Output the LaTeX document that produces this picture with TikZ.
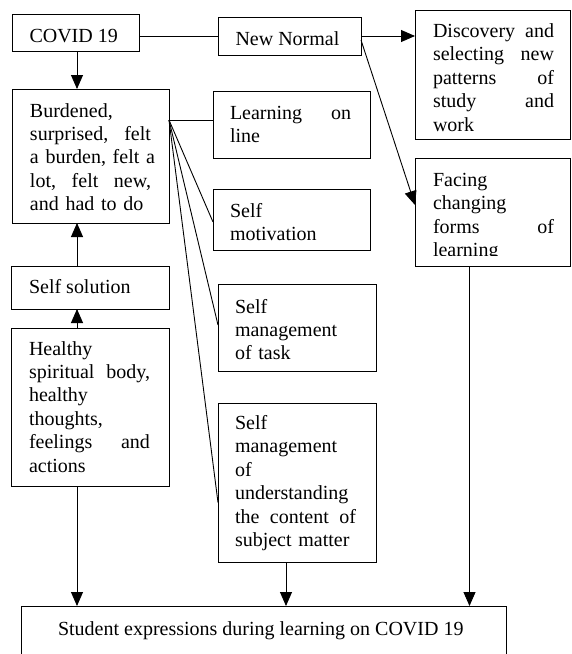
\documentclass[tikz,border=0pt]{standalone}
\usepackage{fontspec}
\setmainfont{Liberation Serif}
\usetikzlibrary{arrows.meta,calc}
\newcommand\myfont{\fontsize{20}{23.4}\selectfont}
\newcommand\J[1]{\makebox[121pt][l]{#1}}
\begin{document}
\begin{tikzpicture}[x=1pt,y=-1pt,
  box/.style={draw,line width=0.9pt,inner sep=0pt,outer sep=0pt,anchor=north west},
  lbl/.style={anchor=base west,inner sep=0pt,outer sep=0pt,font=\myfont},
  txt/.style={lbl,text width=121pt,align=left},
  conn/.style={line width=0.9pt},
  arr/.style={conn,-{Triangle[width=12pt,length=14pt]}}]
\useasboundingbox (0,0) rectangle (571,654);
\clip (0,0) rectangle (571,654);

% boxes
\node[box,minimum width=127pt,minimum height=37pt] (covid) at (12,14) {};
\node[box,minimum width=143pt,minimum height=38pt] (nn) at (218,17) {};
\node[box,minimum width=155pt,minimum height=129pt] (disc) at (415,10) {};
\node[box,minimum width=155pt,minimum height=108pt] (face) at (415,158) {};
\node[box,minimum width=157pt,minimum height=134pt] (burd) at (12,89) {};
\node[box,minimum width=157pt,minimum height=67pt] (learn) at (213,91) {};
\node[box,minimum width=157pt,minimum height=61pt] (motiv) at (213,189) {};
\node[box,minimum width=158pt,minimum height=43pt] (solu) at (11,266) {};
\node[box,minimum width=158pt,minimum height=158pt] (heal) at (11,328) {};
\node[box,minimum width=158pt,minimum height=87pt] (task) at (218,284) {};
\node[box,minimum width=158pt,minimum height=159pt] (und) at (218,403) {};
\node[box,minimum width=485pt,minimum height=64pt] (bot) at (21,606) {};

% texts
\node[lbl] (covid-t) at ($(covid.north west)+(17.5,28)$) {COVID 19};
\node[lbl] (nn-t) at ($(nn.north west)+(17.5,28.5)$) {New Normal};
\node[txt] (disc-t) at ($(disc.north west)+(18,27.5)$) {\J{Discovery\hfill and}\\\J{selecting\hfill new}\\\J{patterns\hfill of}\\\J{study\hfill and}\\work};
\begin{scope}
\clip (face.north west) rectangle ($(face.south east)+(0,-11)$);
\node[txt] (face-t) at ($(face.north west)+(18,28.5)$) {Facing\\changing\\\J{forms\hfill of}\\learning};
\end{scope}
\node[txt] (burd-t) at ($(burd.north west)+(18,28)$) {Burdened,\\\J{surprised,\hfill felt}\\\J{a burden, felt a}\\\J{lot,\hfill felt\hfill new,}\\and had to do};
\node[txt] (learn-t) at ($(learn.north west)+(17,28)$) {\J{Learning\hfill on}\\line};
\node[txt] (motiv-t) at ($(motiv.north west)+(17,28)$) {Self\\motivation};
\node[lbl] (solu-t) at ($(solu.north west)+(18,27)$) {Self solution};
\begin{scope}
\clip (heal.north west) rectangle ($(heal.south east)+(0,-11)$);
\node[txt] (heal-t) at ($(heal.north west)+(18,27)$) {Healthy\\\J{spiritual\hfill body,}\\healthy\\thoughts,\\\J{feelings\hfill and}\\actions};
\end{scope}
\node[txt] (task-t) at ($(task.north west)+(17,29)$) {Self\\management\\of task};
\node[txt] (und-t) at ($(und.north west)+(17,26.5)$) {Self\\management\\of\\understanding\\\J{the\hfill content\hfill of}\\subject matter};
\node[lbl] (bot-t) at ($(bot.north west)+(37,29)$) {Student expressions during learning on COVID 19};

% connectors
\coordinate (fan) at ($(burd.north east)+(0,31)$);
\coordinate (lx) at ([xshift=1.5pt]covid.south);
\coordinate (ux) at ($(und.south)+(-11,0)$);
\coordinate (fx) at ($(face.south)+(-23,0)$);
\draw[conn] (nn.west -| covid.east) -- (nn.west);
\draw[arr] (lx) -- (lx |- burd.north);
\draw[arr] (nn.east) -- (nn.east -| disc.west);
\draw[arr] ($(nn.east)+(0,4)$) -- ($(face.west)+(0,-7)$);
\draw[conn] (fan) -- (fan -| learn.west);
\draw[conn] (fan) -- ($(motiv.west)+(0,2.5)$);
\draw[conn] (fan) -- ($(task.west)+(0,-2.5)$);
\draw[conn] (fan) -- ($(und.west)+(0,20)$);
\draw[arr] (lx |- solu.north) -- (lx |- burd.south);
\draw[arr] (lx |- heal.north) -- (lx |- solu.south);
\draw[arr] (lx |- heal.south) -- (lx |- bot.north);
\draw[arr] (ux) -- (ux |- bot.north);
\draw[arr] (fx) -- (fx |- bot.north);
\end{tikzpicture}
\end{document}
